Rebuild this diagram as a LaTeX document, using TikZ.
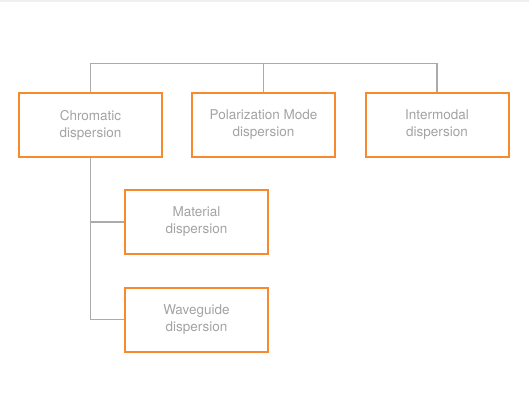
\documentclass[tikz,border=0pt]{standalone}
\usepackage{fontspec}
\setmainfont{TeX Gyre Heros}
\usepackage{xcolor}
\definecolor{boxorange}{HTML}{F7892F}
\definecolor{textgray}{HTML}{A3A3A3}
\definecolor{linegray}{HTML}{ABABAB}
\definecolor{bandgray}{HTML}{EFEFEF}

\begin{document}
\begin{tikzpicture}[x=1pt,y=-1pt]
        \tikzstyle{kind}=[draw=boxorange, line width=2pt, minimum width=143pt, minimum height=64pt, inner sep=0pt, align=center, text=textgray, font=\fontsize{13.5}{17}\selectfont]
        \tikzstyle{link}=[draw=linegray, line width=1.5pt]
        \useasboundingbox (0,0) rectangle (529,403);
        \fill [bandgray] (0,0) rectangle (529,2.5);
        % top row
        \node [kind] (chrom) at (90.5,125) {Chromatic\\dispersion};
        \node [kind] (polar) at (263.5,125) {Polarization Mode\\dispersion};
        \node [kind] (inter) at (437,125) {Intermodal\\dispersion};
        % under chromatic
        \node [kind] (mat) at (196.5,222) {Material\\dispersion};
        \node [kind] (wave) at (196.5,319.5) {Waveguide\\dispersion};
        \coordinate (bus) at (263.5,63.5);
        \draw [link] (chrom.north) |- (bus) -| (inter.north);
        \draw [link] (polar.north) -- (bus);
        \draw [link] (chrom.south) |- (mat.west);
        \draw [link] (chrom.south) |- (wave.west);
    \end{tikzpicture}
\end{document}
